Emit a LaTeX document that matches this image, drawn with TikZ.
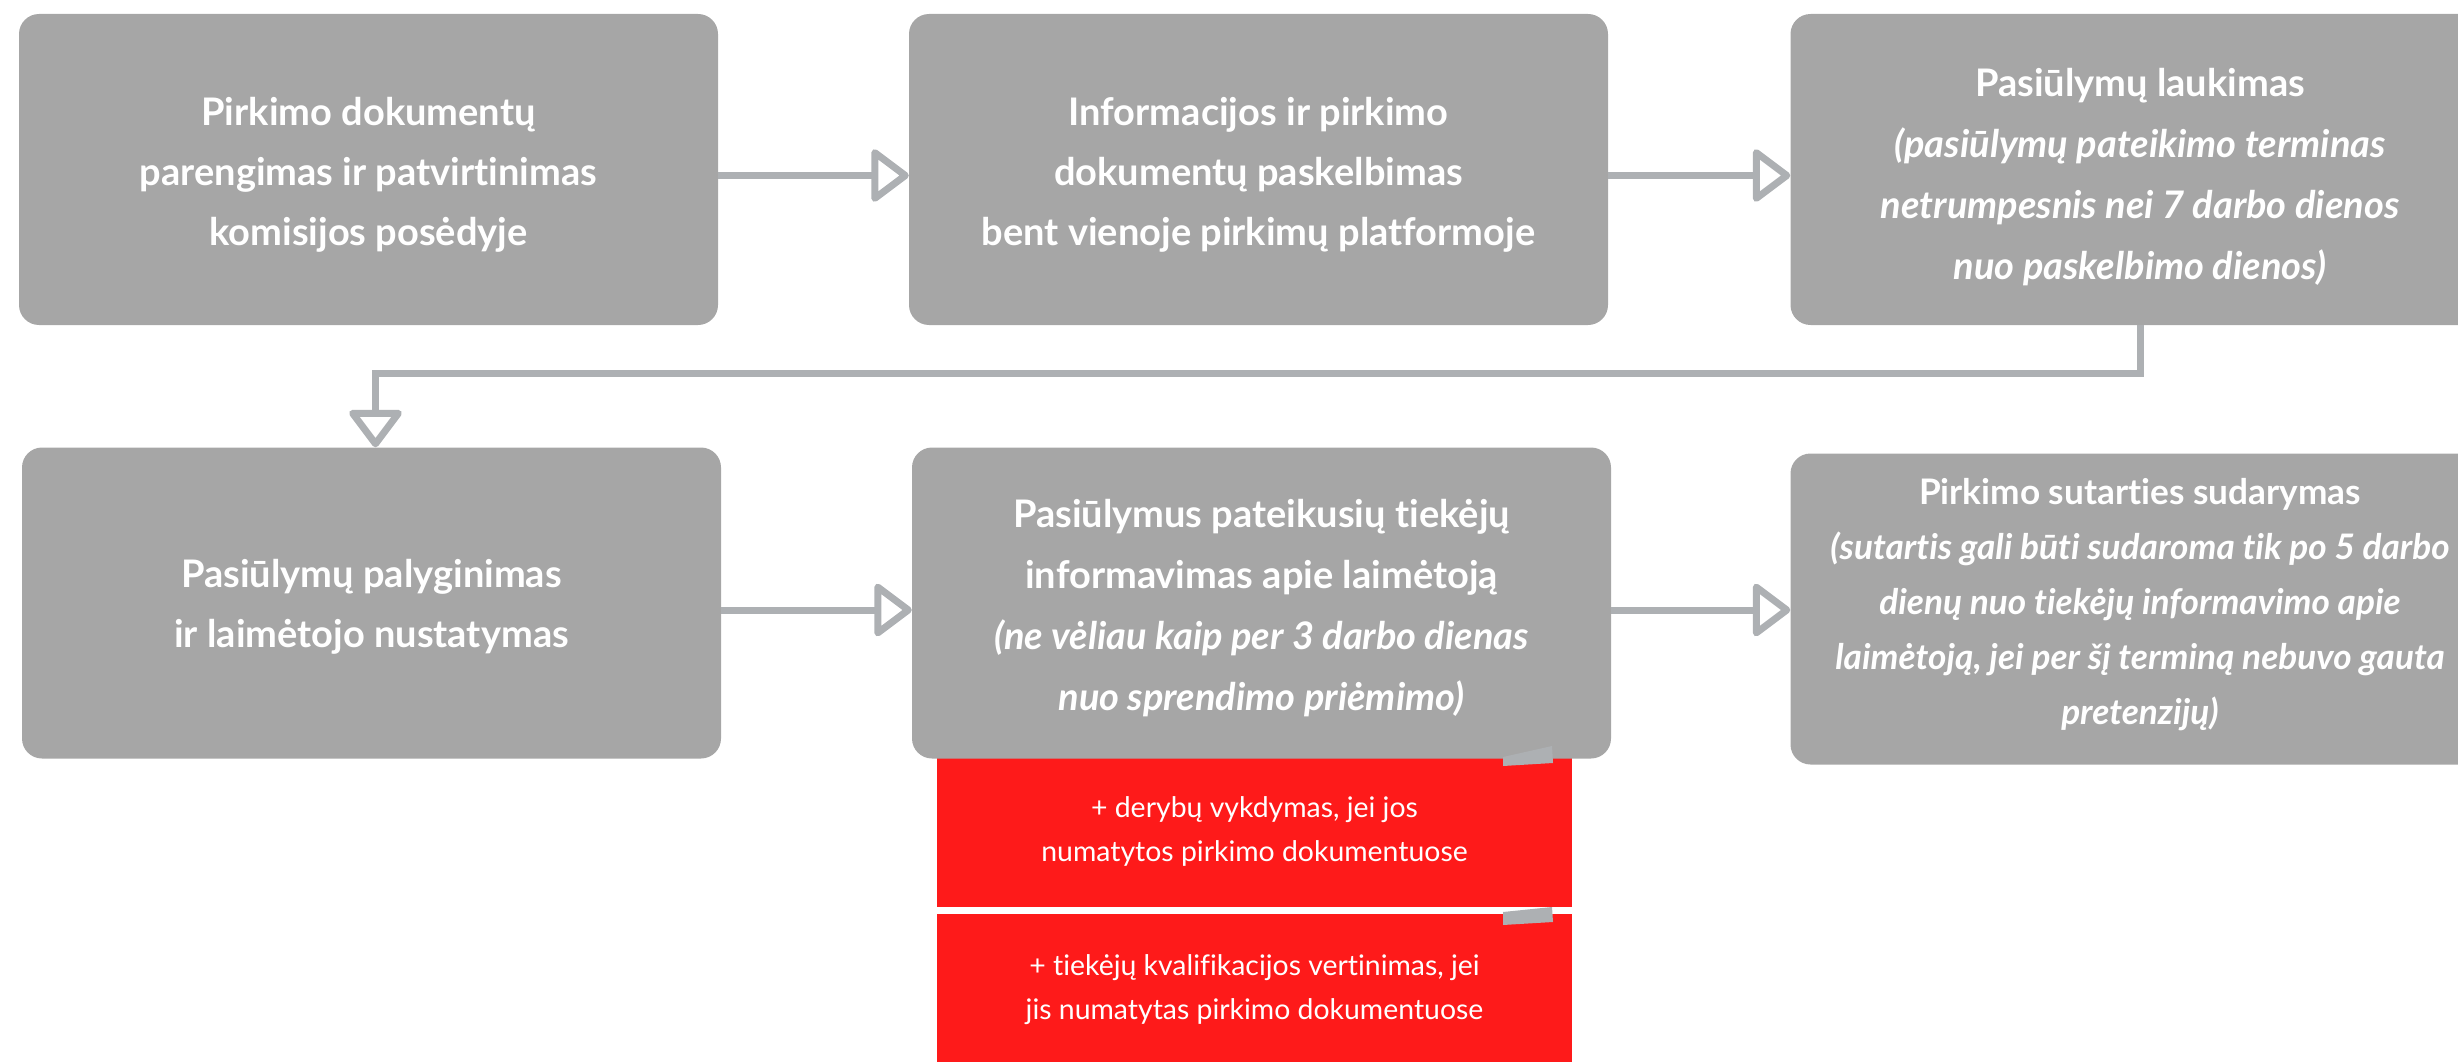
\documentclass[tikz,border=0pt]{standalone}
\usepackage{fontspec}
\setmainfont{Lato}[Ligatures={NoCommon}]
\usetikzlibrary{arrows.meta}
\definecolor{boxgrey}{HTML}{A6A6A6}
\definecolor{linegrey}{HTML}{ADB0B3}
\definecolor{redbox}{HTML}{FE1A1A}
\begin{document}
\begin{tikzpicture}[x=1pt,y=-1pt,
  box/.style={rectangle, rounded corners=20pt, fill=boxgrey, minimum width=699pt, minimum height=311pt, inner sep=0pt},
  txt/.style={inner sep=0pt, text=white, align=center, font=\bfseries\fontsize{38}{60}\selectfont},
  redb/.style={rectangle, fill=redbox, minimum width=635pt, minimum height=152pt, inner sep=0pt, text=white, align=center, font=\fontsize{28.4}{44}\selectfont},
  conn/.style={draw=linegrey, line width=7pt, -{Triangle[open,round,length=40pt,width=58pt]}},
  tabshape/.style={fill=linegrey}
]
\useasboundingbox (0,0) rectangle (2458,1062);
\clip (0,0) rectangle (2458,1062);

% red notes (drawn first, below the grey box)
\node[redb] (r1) at (1254.5,831) {+ derybų vykdymas, jei jos\\numatytos pirkimo dokumentuose};
\node[redb] (r2) at (1254.5,990) {+ tiekėjų kvalifikacijos vertinimas, jei\\jis numatytas pirkimo dokumentuose};

% grey boxes
\node[box] (b1) at (368.5,169.5) {};
\node[box] (b2) at (1258.5,169.5) {};
\node[box] (b3) at (2140,169.5) {};
\node[box] (b4) at (371.5,603) {};
\node[box] (b5) at (1261.5,603) {};
\node[box] (b6) at (2140,609) {};

% texts
\node[txt] (t1) at ([yshift=-5pt]b1.center) {Pirkimo dokumentų\\parengimas ir patvirtinimas\\komisijos posėdyje};
\node[txt] (t2) at ([yshift=-5pt]b2.center) {Informacijos ir pirkimo\\dokumentų paskelbimas\\bent vienoje pirkimų platformoje};
\node[txt, font=\bfseries\fontsize{38}{61}\selectfont] (t3) at ([yshift=-8pt]b3.center) {Pasiūlymų laukimas\\\itshape(pasiūlymų pateikimo terminas\\\itshape netrumpesnis nei 7 darbo dienos\\\itshape nuo paskelbimo dienos)};
\node[txt] (t4) at ([yshift=-4pt]b4.center) {Pasiūlymų palyginimas\\ir laimėtojo nustatymas};
\node[txt, font=\bfseries\fontsize{38}{61}\selectfont] (t5) at ([yshift=-5pt]b5.center) {Pasiūlymus pateikusių tiekėjų\\informavimas apie laimėtoją\\\itshape(ne vėliau kaip per 3 darbo dienas\\\itshape nuo sprendimo priėmimo)};
\node[txt, font=\bfseries\fontsize{35.2}{55}\selectfont] (t6) at ([yshift=4pt]b6.center) {Pirkimo sutarties sudarymas\\\itshape(sutartis gali būti sudaroma tik po 5 darbo\\\itshape dienų nuo tiekėjų informavimo apie\\\itshape laimėtoją, jei per šį terminą nebuvo gauta\\\itshape pretenzijų)};

% small tabs
\fill[tabshape] (1503,757) -- (1552,746) -- (1553,763) -- (1503,766) -- cycle;
\fill[tabshape] (1503,912) -- (1552,907) -- (1553,922) -- (1503,925) -- cycle;

% connectors
\coordinate (turn) at (0,373);
\draw[conn] ([yshift=-6pt]b1.east) -- ([yshift=-6pt]b2.west);
\draw[conn] ([yshift=-6pt]b2.east) -- ([yshift=-6pt]b3.west);
\draw[conn] (b3.south) -- (b3.south |- turn) -- ([xshift=4pt]b4.north |- turn) -- ([xshift=4pt]b4.north);
\draw[conn] ([yshift=-7pt]b4.east) -- ([yshift=-7pt]b5.west);
\draw[conn] ([yshift=-7pt]b5.east) -- ([yshift=-1pt]b6.west);
\end{tikzpicture}
\end{document}
